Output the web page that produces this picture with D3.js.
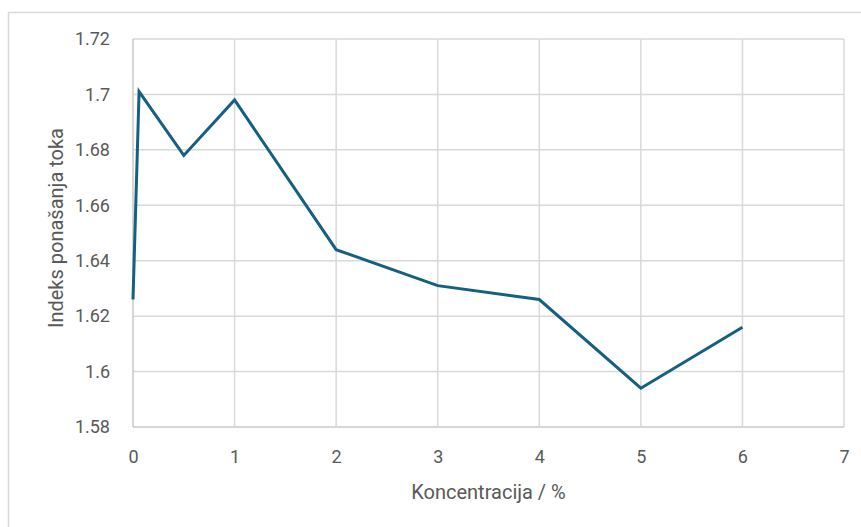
<!DOCTYPE html>
<html>
<head>
<meta charset="utf-8">
<script src="https://cdn.jsdelivr.net/npm/d3@7"></script>
<style>
  body { margin: 0; background: #fff; }
  text { font-family: Roboto, "Liberation Sans", sans-serif; }
</style>
</head>
<body>
<div id="chart"></div>
<script>
// data
var concentration = [0, 0.06, 0.5, 1, 2, 3, 4, 5, 6]
var flowIndex = [1.626, 1.701, 1.678, 1.698, 1.644, 1.631, 1.626, 1.594, 1.616]
var xTicks = [0, 1, 2, 3, 4, 5, 6, 7]
var yTicks = [1.58, 1.6, 1.62, 1.64, 1.66, 1.68, 1.7, 1.72]

var width = 861
var height = 527
var margin = { top: 39, right: 17, bottom: 100, left: 133 }

var svg = d3.select("#chart")
  .append("svg")
  .attr("width", width)
  .attr("height", height)

// outer chart border
svg.append("rect")
  .attr("x", 8.5)
  .attr("y", 12.5)
  .attr("width", 870)
  .attr("height", 530)
  .attr("fill", "none")
  .attr("stroke", "#d9d9d9")
  .attr("stroke-width", 1.5)

var x = d3.scaleLinear()
  .domain([0, 7])
  .range([margin.left, width - margin.right])

var y = d3.scaleLinear()
  .domain([1.58, 1.72])
  .range([height - margin.bottom, margin.top])

// grid
svg.append("g")
  .selectAll("line")
  .data(yTicks)
  .enter()
  .append("line")
  .attr("x1", x(0))
  .attr("x2", x(7))
  .attr("y1", function (d) { return y(d) })
  .attr("y2", function (d) { return y(d) })
  .attr("stroke", function (d) { return d == 1.58 ? "#c8c8c8" : "#d9d9d9" })
  .attr("stroke-width", 1.5)

svg.append("g")
  .selectAll("line")
  .data(xTicks)
  .enter()
  .append("line")
  .attr("x1", function (d) { return x(d) })
  .attr("x2", function (d) { return x(d) })
  .attr("y1", y(1.58))
  .attr("y2", y(1.72))
  .attr("stroke", function (d) { return d == 0 ? "#c8c8c8" : "#d9d9d9" })
  .attr("stroke-width", 1.5)

// axes (labels only)
var xAxis = svg.append("g")
  .attr("transform", "translate(0," + (y(1.58) + 20) + ")")
  .call(d3.axisBottom(x).tickValues(xTicks).tickSize(0).tickFormat(d3.format("d")))
xAxis.select(".domain").remove()
xAxis.selectAll("text")
  .attr("fill", "#595959")
  .style("font-size", "18px")

var yAxis = svg.append("g")
  .attr("transform", "translate(" + (x(0) - 20) + ",0)")
  .call(d3.axisLeft(y).tickValues(yTicks).tickSize(0).tickFormat(function (d) { return String(+d.toFixed(2)) }))
yAxis.select(".domain").remove()
yAxis.selectAll("text")
  .attr("fill", "#595959")
  .style("font-size", "18px")

// line
var line = d3.line()
  .x(function (d, i) { return x(concentration[i]) })
  .y(function (d) { return y(d) })

svg.append("path")
  .datum(flowIndex)
  .attr("d", line)
  .attr("fill", "none")
  .attr("stroke", "#156082")
  .attr("stroke-width", 3)
  .attr("stroke-linejoin", "miter")

// axis titles
svg.append("text")
  .attr("x", (x(0) + x(7)) / 2)
  .attr("y", 499)
  .attr("text-anchor", "middle")
  .attr("fill", "#595959")
  .style("font-size", "20px")
  .text("Koncentracija / %")

svg.append("text")
  .attr("transform", "translate(63,228) rotate(-90)")
  .attr("text-anchor", "middle")
  .attr("fill", "#595959")
  .style("font-size", "20px")
  .text("Indeks ponašanja toka")
</script>
</body>
</html>
